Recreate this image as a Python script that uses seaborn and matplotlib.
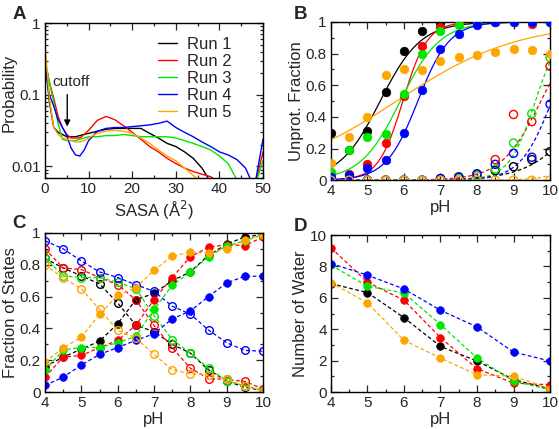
import numpy as np
import pandas as pd
import matplotlib
matplotlib.use("Agg")
import matplotlib.pyplot as plt
import seaborn as sns
from matplotlib.ticker import MultipleLocator, FixedLocator, LogLocator, NullFormatter, FuncFormatter

sns.set_style("ticks")
plt.rcParams['font.family'] = ['Liberation Sans', 'DejaVu Sans']

runs = ['Run 1', 'Run 2', 'Run 3', 'Run 4', 'Run 5']
colors = ['black', '#ff0000', '#00e600', '#0000ff', '#ffa500']

# panel A: SASA distributions
sasa = [0, 1, 2, 3, 4, 5, 6, 7, 8, 9, 10, 12, 14, 16, 18, 20, 22, 24, 26, 28,
        30, 32, 34, 36, 38, 40, 42, 44, 46, 48, 50]
prob_run1 = [0.32, 0.08, 0.035, 0.03, 0.028, 0.026, 0.026, 0.026, 0.027, 0.028, 0.029,
             0.031, 0.033, 0.034, 0.034, 0.034, 0.034, 0.029, 0.025, 0.021, 0.019,
             0.016, 0.013, 0.0095, 0.006, 0.005, 0.005, 0.005, 0.005, 0.005, 0.005]
prob_run2 = [0.3, 0.15, 0.09, 0.05, 0.035, 0.028, 0.025, 0.025, 0.025, 0.028, 0.032,
             0.044, 0.05, 0.045, 0.037, 0.03, 0.024, 0.019, 0.016, 0.013, 0.011,
             0.0095, 0.0085, 0.0078, 0.0072, 0.006, 0.005, 0.005, 0.005, 0.005, 0.016]
prob_run3 = [0.3, 0.15, 0.08, 0.04, 0.024, 0.023, 0.023, 0.023, 0.024, 0.025, 0.026,
             0.026, 0.027, 0.027, 0.028, 0.027, 0.026, 0.026, 0.026, 0.026, 0.025,
             0.023, 0.021, 0.019, 0.017, 0.014, 0.011, 0.0065, 0.005, 0.005, 0.012]
prob_run4 = [0.25, 0.1, 0.07, 0.045, 0.035, 0.027, 0.018, 0.0145, 0.014, 0.017, 0.023,
             0.031, 0.034, 0.035, 0.035, 0.036, 0.037, 0.038, 0.040, 0.043, 0.035,
             0.030, 0.026, 0.022, 0.019, 0.016, 0.0145, 0.0125, 0.0095, 0.005, 0.024]
prob_run5 = [0.5, 0.09, 0.035, 0.028, 0.025, 0.024, 0.023, 0.022, 0.022, 0.023, 0.025,
             0.029, 0.031, 0.032, 0.031, 0.029, 0.025, 0.021, 0.017, 0.014, 0.012,
             0.0095, 0.0075, 0.006, 0.005, 0.005, 0.005, 0.005, 0.005, 0.005, 0.005]
prob_all = [prob_run1, prob_run2, prob_run3, prob_run4, prob_run5]

# panel B: unprotonated fraction, filled = site 1, open = site 2
ph_b = [4, 4.5, 5, 5.5, 6, 6.5, 7, 7.5, 8, 8.5, 9, 9.5, 10]
unprot1 = [
    [0.295, 0.19, 0.31, 0.555, 0.815, 0.94, 0.995, 1.0, 1.0, 1.0, 1.0, 1.0, 1.0],
    [0.04, 0.04, 0.10, 0.235, 0.53, 0.85, 0.97, 0.99, 1.0, 1.0, 1.0, 0.985, 1.0],
    [0.05, 0.19, 0.27, 0.29, 0.545, 0.80, 0.94, 0.98, 0.99, 1.0, 1.0, 1.0, 1.0],
    [0.02, 0.035, 0.075, 0.13, 0.30, 0.57, 0.83, 0.925, 0.98, 1.0, 1.0, 1.0, 1.0],
    [0.11, 0.27, 0.40, 0.665, 0.705, 0.695, 0.75, 0.775, 0.79, 0.81, 0.83, 0.82, 0.80],
]
unprot2 = [
    [0.0, 0.0, 0.0, 0.0, 0.0, 0.0, 0.01, 0.02, 0.03, 0.06, 0.085, 0.13, 0.18],
    [0.0, 0.0, 0.0, 0.0, 0.0, 0.0, 0.01, 0.02, 0.04, 0.13, 0.415, 0.37, 0.72],
    [0.0, 0.0, 0.0, 0.0, 0.0, 0.0, 0.0, 0.01, 0.03, 0.07, 0.235, 0.42, 0.775],
    [0.0, 0.0, 0.0, 0.0, 0.0, 0.0, 0.01, 0.02, 0.04, 0.10, 0.17, 0.145, 0.48],
    [0.0, 0.0, 0.0, 0.0, 0.0, 0.0, 0.0, 0.0, 0.0, 0.0, 0.0, 0.0, 0.0],
]
# Hill fits: (pKa, n)
fit1 = [(5.35, 0.78), (5.97, 1.3), (5.9, 0.8), (6.38, 1.0), (5.8, 0.26)]
fit2 = [(11.1, 0.6), (9.75, 0.8), (9.6, 1.2), (10.05, 1.0), (11.5, 1.0)]

# panel C: fraction of states
ph_c = [4, 4.5, 5, 5.5, 6, 6.5, 7, 7.5, 8, 8.5, 9, 9.5, 10]
state_filled = [
    [0.16, 0.22, 0.27, 0.32, 0.43, 0.58, 0.62, 0.70, 0.755, 0.86, 0.93, 0.975, 0.99],
    [0.094, 0.22, 0.23, 0.28, 0.325, 0.42, 0.58, 0.72, 0.85, 0.91, 0.927, 0.92, 0.975],
    [0.136, 0.265, 0.28, 0.28, 0.31, 0.35, 0.52, 0.67, 0.755, 0.85, 0.92, 0.95, 0.99],
    [0.042, 0.094, 0.17, 0.237, 0.28, 0.325, 0.367, 0.46, 0.51, 0.60, 0.686, 0.728, 0.728],
    [0.19, 0.277, 0.346, 0.488, 0.608, 0.656, 0.765, 0.855, 0.878, 0.876, 0.897, 0.954, 0.99],
]
state_open = [
    [0.84, 0.78, 0.73, 0.68, 0.56, 0.42, 0.38, 0.30, 0.245, 0.14, 0.07, 0.03, 0.01],
    [0.90, 0.78, 0.77, 0.72, 0.675, 0.58, 0.42, 0.28, 0.15, 0.085, 0.08, 0.067, 0.02],
    [0.845, 0.73, 0.72, 0.72, 0.69, 0.65, 0.48, 0.33, 0.245, 0.15, 0.07, 0.04, 0.01],
    [0.95, 0.90, 0.824, 0.755, 0.72, 0.675, 0.633, 0.54, 0.49, 0.39, 0.31, 0.262, 0.257],
    [0.80, 0.717, 0.65, 0.52, 0.388, 0.34, 0.237, 0.14, 0.115, 0.11, 0.08, 0.04, 0.01],
]

# panel D: number of water
ph_d = [4, 5, 6, 7, 8, 9, 10]
water = [
    [6.91, 6.34, 4.74, 2.91, 1.98, 0.8, 0.2],
    [9.19, 7.0, 5.85, 3.47, 1.49, 0.57, 0.47],
    [8.09, 6.74, 6.32, 4.30, 2.17, 0.7, 0.15],
    [8.19, 7.45, 6.57, 5.21, 4.15, 2.55, 1.98],
    [6.98, 5.68, 3.30, 2.17, 1.1, 1.02, 0.21],
]

TICK = 11
LAB = 12
gfmt = FuncFormatter(lambda v, pos: '%g' % round(v, 6))


def style_axes(ax):
    ax.tick_params(which='both', direction='in', top=True, right=True,
                   labelsize=TICK, width=0.9, pad=3)
    ax.tick_params(which='major', length=5)
    ax.tick_params(which='minor', length=2.5)
    for s in ax.spines.values():
        s.set_linewidth(1.0)
        s.set_color('black')


def hill(ph, pka, n):
    return 1.0 / (1.0 + 10 ** (n * (pka - ph)))


fig = plt.figure(figsize=(5.59, 4.29), dpi=100)
axA = fig.add_axes([0.0805, 0.585, 0.39, 0.361])
axB = fig.add_axes([0.592, 0.580, 0.392, 0.369])
axC = fig.add_axes([0.0805, 0.086, 0.39, 0.371])
axD = fig.add_axes([0.592, 0.086, 0.392, 0.366])

# ---- A
for lab, col, p in zip(runs, colors, prob_all):
    sns.lineplot(x=sasa, y=p, ax=axA, color=col, linewidth=1.0, label=lab)
axA.set_yscale('log')
axA.set_xlim(0, 50)
axA.set_ylim(0.0069, 1)
axA.xaxis.set_major_locator(MultipleLocator(10))
axA.xaxis.set_minor_locator(MultipleLocator(5))
axA.yaxis.set_major_locator(FixedLocator([0.01, 0.1, 1]))
axA.yaxis.set_major_formatter(gfmt)
axA.yaxis.set_minor_locator(LogLocator(base=10, subs=np.arange(2, 10)))
axA.yaxis.set_minor_formatter(NullFormatter())
axA.set_xlabel('SASA (Å$^2$)', fontsize=LAB, labelpad=2)
axA.set_ylabel('Probability', fontsize=LAB)
axA.yaxis.set_label_coords(-0.13, 0.55)
axA.text(6.0, 0.15, 'cutoff', ha='center', va='center', fontsize=TICK)
axA.annotate('', xy=(5.1, 0.033), xytext=(5.1, 0.11),
             arrowprops=dict(arrowstyle='-|>', color='black', lw=1.0, mutation_scale=9))
axA.legend(loc='upper left', bbox_to_anchor=(0.52, 0.91), frameon=False,
           fontsize=LAB, handlelength=1.1, handletextpad=0.6, labelspacing=0.12,
           borderpad=0, borderaxespad=0)
style_axes(axA)

# ---- B
grid = np.linspace(4, 10, 200)
for col, y1, y2, f1, f2 in zip(colors, unprot1, unprot2, fit1, fit2):
    sns.lineplot(x=grid, y=hill(grid, *f1), ax=axB, color=col, linewidth=0.9)
    sns.lineplot(x=grid, y=hill(grid, *f2), ax=axB, color=col, linewidth=0.9)
    axB.lines[-1].set_dashes([3, 2])
    sns.scatterplot(x=ph_b, y=y1, ax=axB, color=col, s=38, edgecolor=col,
                    linewidth=0.5, zorder=3)
    sns.scatterplot(x=ph_b, y=y2, ax=axB, facecolor='none', edgecolor=col, s=34,
                    linewidth=1.0, zorder=3)
axB.set_xlim(4, 10)
axB.set_ylim(0, 1)

# ---- C
for col, yf, yo in zip(colors, state_filled, state_open):
    sns.lineplot(x=ph_c, y=yf, ax=axC, color=col, linewidth=0.9, marker='o',
                 markersize=5.5, markeredgecolor=col, markeredgewidth=0.5)
    axC.lines[-1].set_dashes([3, 2])
    sns.lineplot(x=ph_c, y=yo, ax=axC, color=col, linewidth=0.9, marker='o',
                 markersize=5.5, markerfacecolor='none', markeredgecolor=col,
                 markeredgewidth=1.0)
    axC.lines[-1].set_dashes([3, 2])
axC.set_xlim(4, 10)
axC.set_ylim(0, 1)

# ---- D
for col, w in zip(colors, water):
    sns.lineplot(x=ph_d, y=w, ax=axD, color=col, linewidth=0.9, marker='o',
                 markersize=5.5, markeredgecolor=col, markeredgewidth=0.5)
    axD.lines[-1].set_dashes([3, 2])
axD.set_xlim(4, 10)
axD.set_ylim(0, 10)

for ax, ylab, ymaj in [(axB, 'Unprot. Fraction', 0.2), (axC, 'Fraction of States', 0.2),
                       (axD, 'Number of Water', 2)]:
    ax.xaxis.set_major_locator(MultipleLocator(1))
    ax.xaxis.set_minor_locator(MultipleLocator(0.5))
    ax.yaxis.set_major_locator(MultipleLocator(ymaj))
    ax.yaxis.set_minor_locator(MultipleLocator(ymaj / 2))
    ax.yaxis.set_major_formatter(gfmt)
    ax.set_xlabel('pH', fontsize=LAB, labelpad=1)
    ax.set_ylabel(ylab, fontsize=LAB, labelpad=1)
    style_axes(ax)

for ax in (axA, axB, axC, axD):
    for l in ax.get_xticklabels() + ax.get_yticklabels():
        l.set_clip_on(False)

# panel letters
for lab, (x, y) in zip('ABCD', [(0.022, 0.966), (0.526, 0.966), (0.022, 0.478), (0.526, 0.472)]):
    fig.text(x, y, lab, fontsize=13.5, fontweight='bold', ha='left', va='center')

fig.savefig('out.png', dpi=100)
